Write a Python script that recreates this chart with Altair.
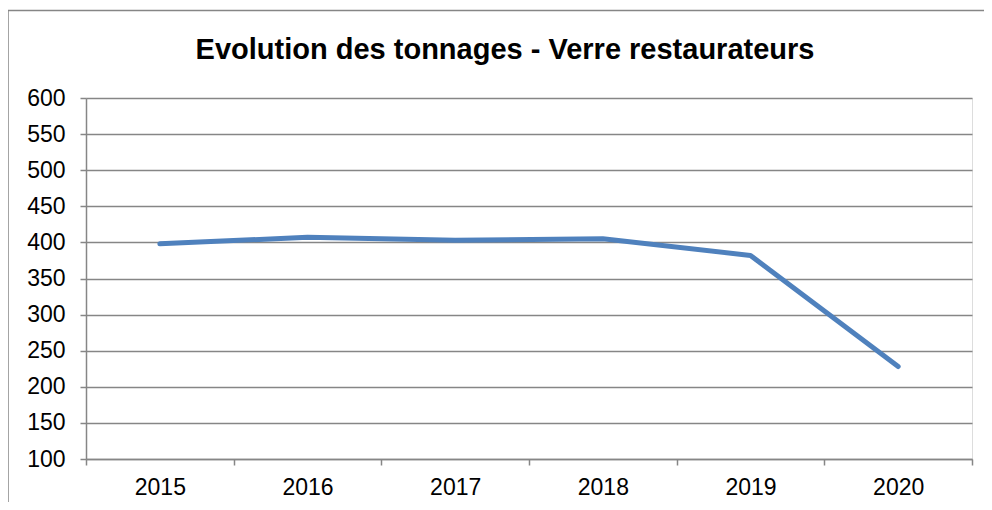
import altair as alt
import pandas as pd

years = ["2015", "2016", "2017", "2018", "2019", "2020"]
tonnages = [398, 407, 403, 405, 382, 228]
y_ticks = [100, 150, 200, 250, 300, 350, 400, 450, 500, 550, 600]
title_text = "Evolution des tonnages - Verre restaurateurs"

df = pd.DataFrame({"annee": years, "tonnage": tonnages})

GRAY = "#868686"
FONT = "Liberation Sans"

one = pd.DataFrame({"k": [0]})

frame_top = alt.Chart(one).mark_rule(color=GRAY, strokeWidth=1.5).encode(
    x=alt.value(-78), x2=alt.value(900), y=alt.value(-87.5)
)
frame_left = alt.Chart(one).mark_rule(color=GRAY, strokeWidth=1.5).encode(
    x=alt.value(-78), y=alt.value(-87.5), y2=alt.value(430)
)

title = alt.Chart(one).mark_text(
    font=FONT, fontSize=29, fontWeight="bold", color="black",
    align="center", baseline="alphabetic"
).encode(
    x=alt.value(419), y=alt.value(-39), text=alt.value(title_text)
)

line = alt.Chart(df).mark_line(
    color="#4F81BD", strokeWidth=5, strokeCap="round", strokeJoin="round"
).encode(
    x=alt.X("annee:O", sort=years, bandPosition=0.5,
            scale=alt.Scale(type="band", paddingInner=0, paddingOuter=0),
            axis=alt.Axis(title=None, labelAngle=0, tickBand="extent",
                          grid=False, domainColor=GRAY, tickColor=GRAY,
                          domainWidth=1.5, tickWidth=1.5, tickSize=6,
                          labelFont=FONT, labelFontSize=23, labelColor="black",
                          labelPadding=11)),
    y=alt.Y("tonnage:Q",
            scale=alt.Scale(domain=[100, 600], nice=False, zero=False),
            axis=alt.Axis(title=None, values=y_ticks, grid=True,
                          gridColor=GRAY, gridWidth=1.5, domainColor=GRAY,
                          tickColor=GRAY, domainWidth=1.5, tickWidth=1.5,
                          tickSize=6, labelFont=FONT, labelFontSize=23,
                          labelColor="black", labelPadding=15))
)

chart = alt.layer(frame_top, frame_left, title, line).properties(
    width=886, height=361,
    autosize=alt.AutoSizeParams(type="none"),
    padding={"left": 78, "top": 90, "right": 12, "bottom": 43}
).configure_view(stroke=None).configure(background="white")

chart.save("out.html", embed_options={"renderer": "svg", "actions": False})
